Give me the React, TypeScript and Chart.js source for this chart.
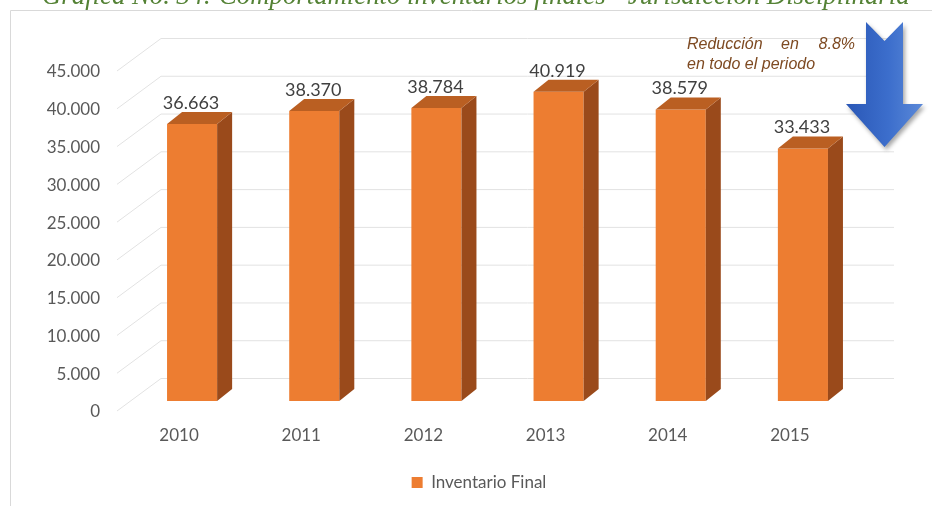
import React, { useEffect, useRef } from 'react';
import { Chart, registerables } from 'chart.js';

Chart.register(...registerables);

const categories = ['2010', '2011', '2012', '2013', '2014', '2015'];
const inventarioFinal = [36663, 38370, 38784, 40919, 38579, 33433];
const seriesLabel = 'Inventario Final';
const yTickValues = [0, 5000, 10000, 15000, 20000, 25000, 30000, 35000, 40000, 45000];
const titleText = 'Gráfica No. 34: Comportamiento inventarios finales - Jurisdicción Disciplinaria';
const noteLine1 = ['Reducción', 'en', '8.8%'];
const noteLine2 = 'en todo el periodo';

const fmt = (v: number) => String(Math.round(v)).replace(/\B(?=(\d{3})+(?!\d))/g, '.');

const W = 932;
const H = 506;
const PLOT_BOTTOM = 401;
const LAYOUT_BOTTOM = 5;
const BAR_DX = 15;
const BAR_DY = 12;

const decor = {
  id: 'decor',
  beforeDraw(chart: any) {
    const { ctx } = chart;
    ctx.save();
    // frame
    ctx.strokeStyle = '#D9D9D9';
    ctx.lineWidth = 1;
    ctx.beginPath();
    ctx.moveTo(10.5, H + 10);
    ctx.lineTo(10.5, 10.5);
    ctx.lineTo(W + 10, 10.5);
    ctx.stroke();
    // title (clipped at the top)
    ctx.font = 'italic 26px "Liberation Serif"';
    const m = ctx.measureText(titleText).width;
    const size = (26 * 868) / m;
    ctx.font = `italic ${size}px "Liberation Serif"`;
    ctx.fillStyle = '#548235';
    ctx.textAlign = 'left';
    ctx.textBaseline = 'alphabetic';
    ctx.fillText(titleText, 42, 4);
    ctx.restore();
  },
  beforeDatasetsDraw(chart: any) {
    const { ctx, chartArea, scales } = chart;
    const y = scales.y;
    ctx.save();
    ctx.strokeStyle = '#E2E2E2';
    ctx.lineWidth = 1;
    for (const v of yTickValues) {
      const py = y.getPixelForValue(v);
      ctx.beginPath();
      ctx.moveTo(chartArea.left - 14, py + 10);
      ctx.lineTo(chartArea.left + 30, py - 22.5);
      ctx.lineTo(chartArea.right + 30, py - 22.5);
      ctx.stroke();
    }
    ctx.restore();
  },
  afterDatasetsDraw(chart: any) {
    const { ctx } = chart;
    const meta = chart.getDatasetMeta(0);
    const data = chart.data.datasets[0].data as number[];
    ctx.save();
    meta.data.forEach((bar: any, i: number) => {
      const { x, y, base, width } = bar.getProps(['x', 'y', 'base', 'width'], true);
      const l = x - width / 2;
      const r = x + width / 2;
      // side
      ctx.fillStyle = '#9A4A1B';
      ctx.beginPath();
      ctx.moveTo(r, y);
      ctx.lineTo(r + BAR_DX, y - BAR_DY);
      ctx.lineTo(r + BAR_DX, base - BAR_DY);
      ctx.lineTo(r, base);
      ctx.closePath();
      ctx.fill();
      // top
      ctx.fillStyle = '#BA5F22';
      ctx.beginPath();
      ctx.moveTo(l, y);
      ctx.lineTo(l + BAR_DX, y - BAR_DY);
      ctx.lineTo(r + BAR_DX, y - BAR_DY);
      ctx.lineTo(r, y);
      ctx.closePath();
      ctx.fill();
      // label
      ctx.fillStyle = '#404040';
      ctx.font = '18px Lato';
      ctx.textAlign = 'center';
      ctx.textBaseline = 'middle';
      ctx.fillText(fmt(data[i]), x - 1, y - BAR_DY - 9);
    });
    ctx.restore();
  },
  afterDraw(chart: any) {
    const { ctx } = chart;
    ctx.save();
    // arrow
    const pts = [
      [866, 22], [884.5, 41], [903, 22], [903, 104], [923, 104],
      [884.5, 147], [846, 104], [866, 104],
    ];
    const g = ctx.createLinearGradient(846, 0, 923, 0);
    g.addColorStop(0, '#2A57B6');
    g.addColorStop(0.55, '#3C6ECC');
    g.addColorStop(1, '#5B89D8');
    ctx.shadowColor = 'rgba(0,0,0,0.35)';
    ctx.shadowBlur = 4;
    ctx.shadowOffsetX = 2;
    ctx.shadowOffsetY = 3;
    ctx.fillStyle = g;
    ctx.beginPath();
    pts.forEach(([px, py], i) => (i === 0 ? ctx.moveTo(px, py) : ctx.lineTo(px, py)));
    ctx.closePath();
    ctx.fill();
    ctx.shadowColor = 'transparent';
    // note
    ctx.fillStyle = '#7E4A22';
    ctx.font = 'italic 16px "Liberation Sans"';
    ctx.textBaseline = 'middle';
    ctx.textAlign = 'left';
    ctx.fillText(noteLine1[0], 687, 45);
    ctx.textAlign = 'right';
    ctx.fillText(noteLine1[2], 855, 45);
    ctx.textAlign = 'center';
    ctx.fillText(noteLine1[1], 790, 45);
    ctx.textAlign = 'left';
    ctx.fillText(noteLine2, 687, 65);
    ctx.restore();
  },
};

export default function App() {
  const ref = useRef<HTMLCanvasElement>(null);
  useEffect(() => {
    if (!ref.current) return;
    const tickFont = { family: 'Lato', size: 17 };
    const chart = new Chart(ref.current, {
      type: 'bar',
      data: {
        labels: categories,
        datasets: [
          {
            label: seriesLabel,
            data: inventarioFinal,
            backgroundColor: '#ED7D31',
            borderWidth: 0,
            categoryPercentage: 1,
            barPercentage: 0.41,
          },
        ],
      },
      options: {
        responsive: false,
        animation: false,
        layout: { padding: { left: 26, right: 0, top: 61, bottom: LAYOUT_BOTTOM } },
        plugins: {
          legend: {
            position: 'bottom',
            labels: {
              boxWidth: 11,
              boxHeight: 11,
              padding: 10,
              color: '#595959',
              font: tickFont,
            },
          },
          tooltip: { enabled: false },
        },
        scales: {
          x: {
            grid: { display: false, drawTicks: false },
            border: { display: false },
            ticks: { color: '#595959', font: tickFont, labelOffset: -13, padding: 24 },
            afterFit(scale: any) {
              const lh = scale.chart.legend ? scale.chart.legend.height : 37;
              scale.height = H - LAYOUT_BOTTOM - lh - PLOT_BOTTOM;
            },
          },
          y: {
            min: 0,
            max: 45000,
            afterBuildTicks(scale: any) {
              scale.ticks = yTickValues.map((v) => ({ value: v }));
            },
            grid: { display: false, drawTicks: false },
            border: { display: false },
            ticks: {
              color: '#595959',
              font: tickFont,
              labelOffset: 11,
              padding: 31,
              callback: (v: any) => fmt(Number(v)),
            },
            afterFit(scale: any) {
              scale.width = 105;
            },
          },
          yRight: {
            position: 'right',
            display: true,
            grid: { display: false, drawTicks: false },
            border: { display: false },
            ticks: { display: false },
            afterFit(scale: any) {
              scale.width = 68;
            },
          },
        },
      } as any,
      plugins: [decor],
    });
    return () => chart.destroy();
  }, []);
  return (
    <canvas
      ref={ref}
      width={W}
      height={H}
      style={{ position: 'fixed', left: 0, top: 0, width: W, height: H }}
    />
  );
}
